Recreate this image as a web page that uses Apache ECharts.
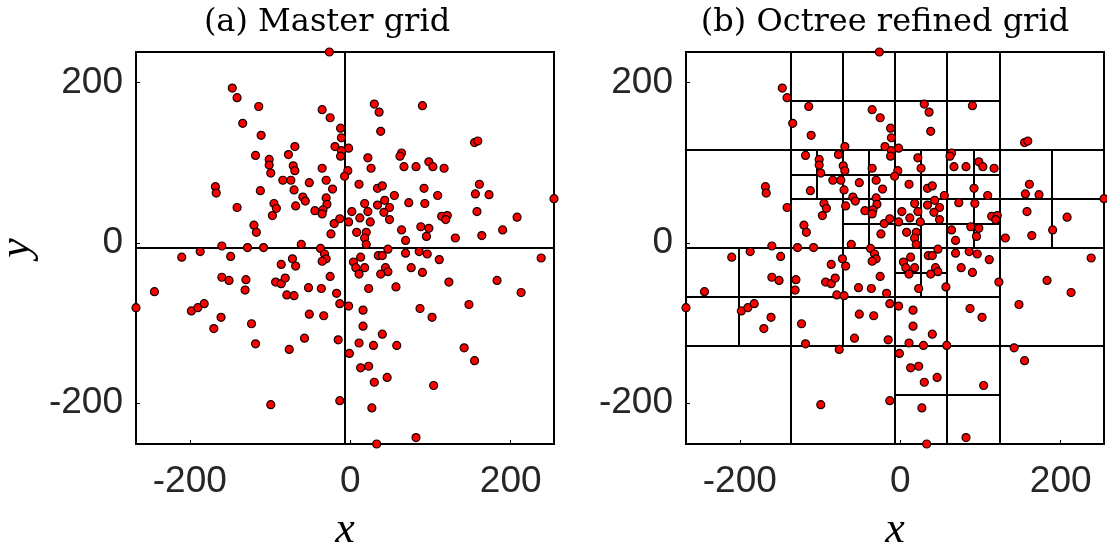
<!DOCTYPE html>
<html>
<head>
<meta charset="utf-8">
<script src="https://cdn.jsdelivr.net/npm/echarts@6/dist/echarts.min.js"></script>
<style>
html, body { margin: 0; background: #fff; }
#chart { width: 1107px; height: 550px; }
</style>
</head>
<body>
<div id="chart"></div>
<script>
// sample positions (same points in both panels)
const xs = [
  -26, -147, -141, -114, -35, -25, -134, -12, -11, -111, -19, -69, -2, -11, -12, -118, -77, -101, -101, -71,
  -69, -35, -99, -3, -7, -84, -74, -51, -30, -168, -167, -112, -70, -22, -59, -56, -30, -29, -95, -92,
  -97, -141, -68, -44, -34, -35, -20, -13, -120, -117, -24, -61,
  30, 36, 90, 38, 22, 64, 62, 26, 67, 82, 98, 103, 117, 155, 159, 11, 34, 40, 92, 109,
  161, 156, 173, 254, 55, 18, 34, 43, 49, 73, 93, 2, 22, 42, 12, -2, 25, 49, 114, 121,
  119, 158, 208, 8, 20, 18, 20, 64, 69, 88, 98, 95, 131, 164, 190,
  -160, -128, -108, -37, -32, -30, -35, -210, -187, -149, -72, -86, -68, -25, -160, -151, -130, -131, -93, -86,
  -81, -52, -36, -17, -79, -70, -244, -267, -198, -190, -182, -13, -161, -170, -123, -118, -51, -33, -57, -76,
  -15, -99, -13,
  47, 69, 86, 96, 111, 4, 13, 7, 18, 11, 35, 40, 44, 47, 38, 76, 90, 23, 57, 123,
  183, 213, 238, -2, 16, 87, 102, 148, 16, 40, 11, 29, 58, -1, 142, 155, 13, 23, 30, 46,
  104, 27, 82, 33
];
const ys = [
  238, 193, 181, 170, 166, 156, 149, 143, 131, 134, 120, 120, 118, 115, 108, 109, 110, 104, 97, 96,
  90, 93, 87, 90, 83, 78, 78, 75, 78, 70, 62, 65, 66, 67, 57, 52, 56, 48, 49, 43,
  34, 44, 46, 40, 41, 36, 24, 30, 22, 13, 11, -2,
  173, 163, 171, 139, 106, 112, 108, 93, 95, 95, 101, 95, 93, 125, 127, 73, 68, 71, 68, 59,
  73, 61, 60, 55, 59, 49, 47, 53, 44, 50, 49, 39, 39, 38, 31, 26, 26, 29, 33, 34,
  29, 39, 32, 13, 13, 6, -2, 16, 3, 20, 18, 8, 6, 9, 16,
  -4, -6, -6, -7, -14, -20, -23, -18, -11, -17, -20, -27, -29, -42, -43, -47, -46, -59, -49, -51,
  -44, -56, -57, -63, -65, -66, -61, -81, -85, -81, -76, -76, -93, -107, -101, -126, -89, -91, -119, -133,
  -121, -202, -197,
  -8, -13, -11, -14, -21, -24, -18, -31, -31, -39, -16, -16, -31, -36, -39, -31, -37, -57, -55, -49,
  -47, -62, -19, -79, -84, -82, -93, -77, -104, -114, -125, -128, -128, -138, -131, -147, -156, -154, -174, -168,
  -178, -206, -243, -251
];
const ticks = [-200, 0, 200];
const titles = ['(a) Master grid', '(b) Octree refined grid'];

// cells that get split, as [u, v, size] in 1/16 of the domain, v counted from the top
const masterCells = [[0, 0, 16]];
const octreeCells = [
  [0, 0, 16],
  [0, 0, 8], [8, 0, 8], [0, 8, 8], [8, 8, 8],
  [4, 0, 4], [4, 4, 4], [8, 0, 4], [8, 4, 4], [12, 4, 4], [0, 8, 4], [4, 8, 4], [8, 8, 4], [8, 12, 4],
  [4, 4, 2], [6, 4, 2], [6, 6, 2], [8, 4, 2], [10, 4, 2], [8, 6, 2], [10, 6, 2], [8, 8, 2]
];

const xMin = Math.min(...xs), xMax = Math.max(...xs);
const yMin = Math.min(...ys), yMax = Math.max(...ys);
const points = xs.map((x, i) => [x, ys[i]]);

function ux(u) { return xMin + (xMax - xMin) * u / 16; }
function vy(v) { return yMax - (yMax - yMin) * v / 16; }

// each split cell gets a cross through its middle
function segments(cells) {
  const out = [];
  cells.forEach(([u, v, s]) => {
    const h = s / 2;
    out.push({ coords: [[ux(u + h), vy(v)], [ux(u + h), vy(v + s)]] });
    out.push({ coords: [[ux(u), vy(v + h)], [ux(u + s), vy(v + h)]] });
  });
  return out;
}

const tickFont = { fontFamily: 'Liberation Sans', fontSize: 37, color: '#262626' };
const nameFont = { fontFamily: 'Liberation Serif', fontStyle: 'italic', fontSize: 44, color: '#000' };

const option = {
  animation: false,
  backgroundColor: '#fff',
  title: titles.map((t, i) => ({
    text: t,
    left: [322, 880][i],
    top: 2,
    textAlign: 'center',
    textStyle: { fontFamily: 'DejaVu Serif', fontWeight: 'normal', fontSize: 32, color: '#000' }
  })),
  grid: [0, 1].map(i => ({
    left: 136 + 550 * i, top: 52, width: 418, height: 392,
    outerBoundsMode: 'none',
    show: true, borderColor: '#000', borderWidth: 2
  })),
  xAxis: [0, 1].map(i => ({
    type: 'value', gridIndex: i, min: xMin, max: xMax,
    axisLine: { show: false, onZero: false },
    splitLine: { show: false },
    axisTick: { show: true, inside: true, length: 4, customValues: ticks, lineStyle: { color: '#000' } },
    axisLabel: Object.assign({ customValues: ticks, margin: 19 }, tickFont),
    name: 'x', nameLocation: 'middle', nameGap: 64, nameTextStyle: nameFont
  })),
  yAxis: [0, 1].map(i => ({
    type: 'value', gridIndex: i, min: yMin, max: yMax,
    axisLine: { show: false, onZero: false },
    splitLine: { show: false },
    axisTick: { show: true, inside: true, length: 4, customValues: ticks, lineStyle: { color: '#000' } },
    axisLabel: Object.assign({ customValues: ticks, margin: 13, padding: [22, 0, 0, 0] }, tickFont),
    name: i === 0 ? 'y' : '', nameLocation: 'middle', nameGap: 97, nameRotate: 90, nameTextStyle: nameFont
  })),
  series: [
    {
      type: 'lines', coordinateSystem: 'cartesian2d', xAxisIndex: 0, yAxisIndex: 0,
      data: segments(masterCells), silent: true, z: 2,
      lineStyle: { color: '#000', width: 2, opacity: 1 }
    },
    {
      type: 'lines', coordinateSystem: 'cartesian2d', xAxisIndex: 1, yAxisIndex: 1,
      data: segments(octreeCells), silent: true, z: 2,
      lineStyle: { color: '#000', width: 2, opacity: 1 }
    },
    ...[0, 1].map(i => ({
      type: 'scatter', xAxisIndex: i, yAxisIndex: i, data: points, clip: false, z: 3,
      symbol: 'circle', symbolSize: 8,
      itemStyle: { color: '#ff0000', borderColor: '#1a0000', borderWidth: 1.2, opacity: 1 }
    }))
  ]
};

const chart = echarts.init(document.getElementById('chart'), null, { renderer: 'canvas' });
chart.setOption(option);
</script>
</body>
</html>
